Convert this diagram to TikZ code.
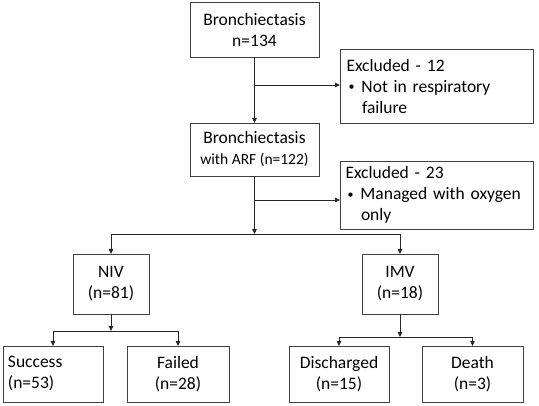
\documentclass[tikz,border=0pt]{standalone}
\usepackage{fontspec}
\setmainfont{Carlito}
\usetikzlibrary{arrows.meta}

\begin{document}
\begin{tikzpicture}[x=1pt,y=-1pt,
	box/.style={draw=black!75,line width=0.9pt,align=center,inner sep=0pt,outer sep=0pt,font=\fontsize{17.5}{21}\selectfont},
	leftbox/.style={box,align=left,text width=#1},
	link/.style={draw=black!85,line width=0.8pt},
	tip/.style={link,-{Triangle[length=5pt,width=4.5pt]}}]
	\useasboundingbox (0,0) rectangle (539,406);
	\node[box,minimum width=129pt,minimum height=55pt] (b134) at (254.5,29.5) {Bronchiectasis\\n=134};
	\node[leftbox=180pt,minimum width=193pt,minimum height=74pt] (ex12) at (436.5,86) {Excluded - 12\\\hspace{2pt}\raisebox{1.5pt}{\fontsize{12}{21}\selectfont\textbullet}\hspace{7pt}Not in respiratory\\\hspace{15.5pt}failure};
	\node[box,minimum width=129pt,minimum height=53pt] (b122) at (254.5,149.5) {Bronchiectasis\\{\fontsize{15.5}{21}\selectfont with ARF (n=122)}};
	\node[leftbox=182pt,minimum width=193pt,minimum height=68pt] (ex23) at (436.5,195) {Excluded - 23\\\hspace{2pt}\raisebox{1.5pt}{\fontsize{12}{21}\selectfont\textbullet}\hspace{7pt}Managed with oxygen\\\hspace{15.5pt}only};
	\node[box,minimum width=76pt,minimum height=60pt] (niv) at (111,284) {NIV\\(n=81)};
	\node[box,minimum width=76pt,minimum height=60pt] (imv) at (400,284) {IMV\\(n=18)};
	\node[leftbox=90pt,minimum width=100pt,minimum height=56pt] (succ) at (53,374) {Success\\(n=53)};
	\node[box,minimum width=102pt,minimum height=56pt] (fail) at (178,374) {Failed\\(n=28)};
	\node[box,minimum width=100pt,minimum height=56pt] (disc) at (339,374) {Discharged\\(n=15)};
	\node[box,minimum width=101pt,minimum height=56pt] (death) at (472.5,374) {Death\\(n=3)};
	\coordinate (x12) at (254.5,85);
	\coordinate (x23) at (254.5,200);
	\coordinate (split) at (254.5,234);
	\coordinate (nivsplit) at (111,331);
	\coordinate (imvsplit) at (400,337);
	% first two stages
	\draw[tip] (b134) -- (b122);
	\draw[tip] (x12) -- (ex12.west |- x12);
	\draw[tip] (b122) -- (split);
	\draw[tip] (x23) -- (ex23.west |- x23);
	% ventilation
	\draw[tip] (split) -| (niv);
	\draw[tip] (split) -| (imv);
	% outcomes
	\draw[tip] (niv) -- (nivsplit);
	\draw[tip] (nivsplit) -| (succ);
	\draw[tip] (nivsplit) -| (fail);
	\draw[tip] (imv) -- (imvsplit);
	\draw[tip] (imvsplit) -| (disc);
	\draw[tip] (imvsplit) -| (death);
\end{tikzpicture}
\end{document}
